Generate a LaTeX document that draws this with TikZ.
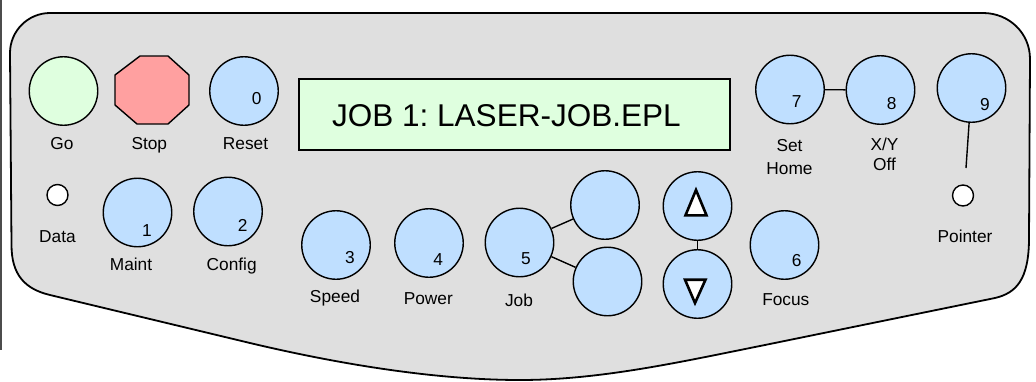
\documentclass[tikz,border=0pt]{standalone}
\usepackage{fontspec}
\setmainfont{Liberation Sans}
\definecolor{panel}{RGB}{223,223,223}
\definecolor{btnblue}{RGB}{191,223,255}
\definecolor{gogreen}{RGB}{223,255,223}
\definecolor{stopred}{RGB}{255,160,160}
\definecolor{lcd}{RGB}{223,255,223}
\frenchspacing
\begin{document}
\begin{tikzpicture}[x=1pt,y=-1pt,
  btn/.style={circle,draw=black,line width=1.4pt,fill=btnblue,minimum size=68.5pt,inner sep=0pt},
  led/.style={circle,draw=black,line width=1.4pt,fill=white,minimum size=21pt,inner sep=0pt},
  lbl/.style={anchor=base,inner sep=0pt,font=\fontsize{17.3}{22}\selectfont},
  num/.style={anchor=base,inner sep=0pt,font=\fontsize{17.3}{20}\selectfont},
  wire/.style={draw=black,line width=1.4pt},
  tri/.style={draw=black,fill=white,line width=2.6pt,line join=miter}]
\useasboundingbox (0,0) rectangle (1036,381);
% scan edge artefact
\draw[line width=2pt,black!70] (1,0) -- (1,350);
% panel
\draw[fill=panel,line width=1.8pt]
  (50,13) -- (983,13)
  .. controls (1009,13) and (1030,33) .. (1030,59)
  -- (1029,238)
  .. controls (1029,280) and (1016,293) .. (995,298)
  -- (760,346)
  .. controls (680,362) and (600,380) .. (520,380)
  .. controls (430,380) and (330,362) .. (250,343)
  -- (50,295)
  .. controls (25,289) and (11.5,275) .. (11.5,245)
  -- (10,53)
  .. controls (10,31) and (28,13) .. (50,13) -- cycle;
% top row
\node[circle,draw=black,line width=1.4pt,fill=gogreen,minimum size=68.5pt,inner sep=0pt] (go) at (63.5,91) {};
\node[lbl] (golbl) at (62,149.5) {Go};
\draw[fill=stopred,line width=1.4pt]
  (140,56) -- (168,56) -- (189,75) -- (189,105) -- (168,124) -- (137,124) -- (115,105) -- (115,75) -- cycle;
\node[lbl] (stoplbl) at (149.3,149.5) {Stop};
\node[btn] (b0) at (244,91) {};
\node[num] (n0) at (256.7,104) {0};
\node[lbl] (resetlbl) at (245.5,149.5) {Reset};
% display
\node[draw=black,line width=1.8pt,fill=lcd,minimum width=431pt,minimum height=71pt,inner sep=0pt] (disp) at (514.5,114.5) {};
\node[anchor=base west,inner sep=0pt,font=\fontsize{31.5}{36}\selectfont] (disptext) at (332,126.5) {JOB 1: LASER-JOB.EPL};
% second row left
\node[led] (dataled) at (57.5,195) {};
\node[lbl] (datalbl) at (57.5,242) {Data};
\node[btn] (b1) at (137.5,212.5) {};
\node[num] (n1) at (147,236.7) {1};
\node[lbl] (maintlbl) at (131,270.7) {Maint};
\node[btn] (b2) at (228,211.5) {};
\node[num] (n2) at (242.7,231) {2};
\node[lbl] (configlbl) at (231.7,270.7) {Config};
% lower row
\node[btn] (b3) at (336,245) {};
\node[num] (n3) at (350,263) {3};
\node[lbl] (speedlbl) at (335,302) {Speed};
\node[btn] (b4) at (429,243) {};
\node[num] (n4) at (438.3,265) {4};
\node[lbl] (powerlbl) at (428.3,304) {Power};
\node[btn] (b5) at (519.5,242.5) {};
\node[num] (n5) at (526,264.3) {5};
\node[lbl] (joblbl) at (519,306) {Job};
\node[btn] (bu) at (605,205) {};
\node[btn] (bd) at (607.5,281.5) {};
\draw[wire] (b5) -- (bu);
\draw[wire] (b5) -- (bd);
\node[btn] (bup) at (697.5,206) {};
\node[btn] (bdn) at (697.5,284) {};
\draw[wire] (bup) -- (bdn);
\draw[tri] (696,190) -- (706.5,215.3) -- (685.5,215.3) -- cycle;
\draw[tri] (685,279.7) -- (705.5,279.7) -- (695,303) -- cycle;
\node[btn] (b6) at (784.5,245) {};
\node[num] (n6) at (796.7,266.7) {6};
\node[lbl] (focuslbl) at (785.8,305) {Focus};
% right top
\node[btn] (b7) at (790,89.5) {};
\node[num] (n7) at (796.7,107.3) {7};
\node[lbl,align=center,font=\fontsize{17.3}{22.3}\selectfont] (setlbl) at (789.5,174) {Set\\Home};
\node[btn] (b8) at (880.5,90) {};
\node[num] (n8) at (891.7,109) {8};
\node[lbl,align=center,font=\fontsize{17.3}{20.7}\selectfont] (xylbl) at (884.5,170.7) {X/Y\\Off};
\draw[wire] (b7) -- (b8);
\node[btn] (b9) at (971.5,88) {};
\node[num] (n9) at (985,110) {9};
\coordinate (ptrend) at (966,168);
\draw[wire] (b9) -- (ptrend);
\node[led] (ptrled) at (963,195.5) {};
\node[lbl] (ptrlbl) at (965,242.7) {Pointer};
\end{tikzpicture}
\end{document}
